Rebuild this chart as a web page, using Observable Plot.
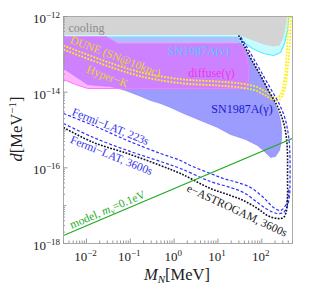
<!DOCTYPE html>
<html><head><meta charset="utf-8">
<script src="https://cdn.jsdelivr.net/npm/d3@7"></script>
<script src="https://cdn.jsdelivr.net/npm/@observablehq/plot@0.6"></script>
<style>body{margin:0;background:#fff} svg{display:block}</style>
</head><body><div id="chart"></div>
<script>
// All points: [log10(M_N / MeV), log10(d · MeV)]
const cooling = [[-2.523,-12],[-2.523,-12.489],[1.468,-12.489],[1.742,-12.608],[2.038,-12.740],[2.266,-12.793],[2.403,-12.767],[2.494,-12.555],[2.540,-12.291],[2.574,-12]];
const snNu = [[-2.523,-12],[-2.523,-12.542],[1.422,-12.542],[1.582,-12.687],[1.787,-12.846],[2.038,-12.978],[2.266,-13.031],[2.426,-12.952],[2.517,-12.714],[2.585,-12.370],[2.619,-12]];
const snNuLow = [[-1.542,-12.542],[1.445,-12.542],[1.536,-12.714],[-1.292,-12.714]];
const snGamma = [[-2.523,-12.542],[-1.542,-12.542],[-1.292,-12.714],[1.536,-12.714],[1.696,-13.031],[1.855,-13.348],[2.015,-13.665],[2.152,-13.956],[2.289,-14.273],[2.380,-14.538],[2.426,-14.749],[2.449,-14.961],[2.449,-15.278],[2.403,-15.542],[2.312,-15.701],[2.198,-15.727],[2.084,-15.595],[1.901,-15.410],[1.628,-15.251],[1.285,-15.119],[0.989,-14.934],[0.601,-14.749],[0.214,-14.564],[-0.083,-14.406],[-0.311,-14.300],[-0.539,-14.220],[-0.813,-14.088],[-1.109,-13.956],[-1.451,-13.850],[-1.793,-13.824],[-1.976,-13.798],[-2.249,-13.586],[-2.523,-13.375]];
const diffuse = [[-2.523,-12.542],[-1.542,-12.542],[-1.292,-12.714],[1.422,-12.714],[1.559,-12.819],[1.650,-13.057],[1.696,-13.375],[1.696,-13.745],[1.628,-13.903],[-1.976,-13.903],[-2.249,-13.798],[-2.523,-13.665]];
const dune = [[-2.523,-12.767],[-1.679,-13.137],[-0.995,-13.401],[-0.539,-13.533],[0.214,-13.665],[0.989,-13.718],[1.513,-13.771],[1.855,-13.850],[2.084,-13.983],[2.243,-14.115],[2.357,-14.141],[2.449,-14.009],[2.494,-13.798],[2.540,-13.427],[2.562,-13.031],[2.585,-12.634],[2.597,-12.238],[2.608,-12.0]];
const hyperK = [[-2.523,-12.872],[-1.679,-13.242],[-0.995,-13.507],[-0.539,-13.639],[0.214,-13.771],[0.989,-13.824],[1.513,-13.877],[1.855,-13.956],[2.084,-14.088],[2.243,-14.194],[2.380,-14.220],[2.471,-14.088],[2.540,-13.824],[2.585,-13.427],[2.619,-13.031],[2.642,-12.634],[2.654,-12.238],[2.665,-12.0]];
const fermi223 = [[-2.523,-14.564],[-1.839,-14.881],[-1.064,-15.278],[-0.311,-15.621],[0.145,-15.806],[0.373,-15.939],[0.829,-16.150],[1.126,-16.282],[1.445,-16.388],[1.742,-16.520],[2.038,-16.785],[2.266,-17.049],[2.426,-17.128],[2.540,-16.996],[2.597,-16.785],[2.619,-16.520]];
const fermi3600 = [[-2.523,-14.828],[-1.839,-15.199],[-1.064,-15.542],[-0.311,-15.833],[0.145,-16.018],[0.829,-16.362],[1.285,-16.520],[1.582,-16.652],[1.901,-16.917],[2.129,-17.102],[2.357,-17.208],[2.494,-17.181],[2.585,-16.996],[2.631,-16.732],[2.642,-16.335],[2.642,-15.806],[2.631,-15.410],[2.597,-15.066],[2.528,-14.696],[2.403,-14.326],[2.198,-13.903],[1.992,-13.480],[1.810,-13.110],[1.650,-12.793],[1.513,-12.529]];
const astrogam = [[-2.523,-14.934],[-1.839,-15.331],[-1.064,-15.621],[-0.311,-15.939],[0.145,-16.150],[0.829,-16.547],[1.285,-16.732],[1.582,-16.864],[1.901,-17.075],[2.129,-17.260],[2.357,-17.340],[2.494,-17.313],[2.562,-17.128],[2.585,-16.732],[2.585,-16.203],[2.585,-15.674],[2.562,-15.225],[2.494,-14.802],[2.357,-14.379],[2.152,-13.956],[1.947,-13.507],[1.764,-13.137],[1.605,-12.793],[1.468,-12.502]];
const model = [[-2.523,-17.79],[2.699,-15.22]];

const xMajor = [0.01, 0.1, 1, 10, 100];
const xLabelExp = ["−2", "−1", "0", "1", "2"];
const yMajor = [1e-12, 1e-14, 1e-16, 1e-18];
const yLabelExp = ["−12", "−14", "−16", "−18"];
const yMid = [1e-13, 1e-15, 1e-17];
const mult = [2,3,4,5,6,7,8,9];
const xMinor = [0.001,0.01,0.1,1,10,100].flatMap(p => mult.map(m => m*p)).filter(v => v >= 0.003 && v <= 500);
const yMinor = [1e-18,1e-17,1e-16,1e-15,1e-14,1e-13].flatMap(p => mult.map(m => m*p));

const pts = a => a.map(([lm, ld]) => ({M: 10 ** lm, d: 10 ** ld}));
const W = 309, H = 295, mL = 63, mR = 17, mT = 16, mB = 52;
const pw = W - mL - mR, ph = H - mT - mB;
const FONT = "Liberation Serif, Times New Roman, serif";
const label = (t, lm, ld, o) => Plot.text([t], {x: 10 ** lm, y: 10 ** ld, text: d => d, fontFamily: FONT, fontSize: 11.5, ...o});
const poly = (a, o) => Plot.line(pts(a), {x: "M", y: "d", curve: "linear", clip: true, ...o});
const curve = (a, o) => Plot.line(pts(a), {x: "M", y: "d", curve: "catmull-rom", clip: true, strokeLinecap: "butt", ...o});

const chart = Plot.plot({
  width: W, height: H, marginLeft: mL, marginRight: mR, marginTop: mT, marginBottom: mB,
  x: {type: "log", domain: [0.003, 500], axis: null},
  y: {type: "log", domain: [1e-18, 1e-12], axis: null},
  style: {fontFamily: FONT, background: "white"},
  marks: [
    poly(snNu, {fill: "#c6fbff", stroke: "none"}),
    poly(snNu.slice(1), {stroke: "#55eeff", strokeWidth: 1.2}),
    poly(snNuLow, {fill: "#aebfff", stroke: "none"}),
    poly(snGamma, {fill: "#5a5aff", fillOpacity: 0.6, stroke: "#6a6aff", strokeOpacity: 0.5, strokeWidth: 0.8}),
    poly(diffuse, {fill: "#ff66ff", fillOpacity: 0.5, stroke: "#ff77ff", strokeWidth: 1}),
    poly(cooling, {fill: "#d4d4d4", stroke: "none"}),
    curve(dune, {stroke: "#ffee11", strokeWidth: 1.8, strokeDasharray: "1.8 1.4"}),
    curve(hyperK, {stroke: "#ffee11", strokeWidth: 1.8, strokeDasharray: "1.8 1.4"}),
    curve(fermi223, {stroke: "#2e2eff", strokeWidth: 1.2, strokeDasharray: "3 2"}),
    curve(fermi3600, {stroke: "#2e2eff", strokeWidth: 1.2, strokeDasharray: "3 2"}),
    curve(astrogam, {stroke: "#10102a", strokeWidth: 1.6, strokeDasharray: "1.8 1.4"}),
    poly(model, {stroke: "#22aa22", strokeWidth: 1.2}),
    label("cooling", -2.409, -12.317, {textAnchor: "start", fill: "#8c8c8c", fontSize: 12}),
    label("DUNE (SN@10kpc)", -1.337, -13.057, {rotate: 21, fill: "#e8d820"}),
    label("Hyper−K", -1.52, -13.586, {rotate: 21, fill: "#e8d820"}),
    label("SN1987A(ν)", 0.556, -12.925, {fill: "#44ccff", fontSize: 12}),
    label("diffuse(γ)", 0.852, -13.494, {fill: "#ee33ee", fontSize: 12}),
    label("SN1987A(γ)", 1.548, -14.458, {fill: "#1a1acc", fontSize: 12}),
    label("Fermi−LAT, 223s", -1.451, -14.908, {rotate: 22, fill: "#3333ee"}),
    label("Fermi−LAT, 3600s", -1.428, -15.674, {rotate: 22, fill: "#3333ee"}),
    label("e−ASTROGAM, 3600s", 1.434, -17.128, {rotate: 25, fill: "#222"}),
    label("model, mν=0.1eV", -1.52, -17.102, {rotate: -23, fill: "#22aa22"}),
    Plot.frame({stroke: "#aaa"}),
    Plot.tickX(xMajor, {x: d => d, stroke: "#999", insetTop: ph - 4.5}),
    Plot.tickX(xMinor, {x: d => d, stroke: "#999", insetTop: ph - 2.5}),
    Plot.tickY(yMajor, {y: d => d, stroke: "#999", insetRight: pw - 4.5}),
    Plot.tickY(yMid, {y: d => d, stroke: "#999", insetRight: pw - 3.5}),
    Plot.tickY(yMinor, {y: d => d, stroke: "#999", insetRight: pw - 2})
  ]
});

const svg = d3.select(chart);
const sx = chart.scale("x"), sy = chart.scale("y");
const g = svg.append("g").attr("font-family", FONT).attr("fill", "#222");
xMajor.forEach((v, i) => {
  const t = g.append("text").attr("x", sx.apply(v) - 0.5).attr("y", 261).attr("text-anchor", "middle").attr("font-size", 13);
  t.append("tspan").text("10");
  t.append("tspan").attr("dy", -5).attr("font-size", 9).text(xLabelExp[i]);
});
yMajor.forEach((v, i) => {
  const t = g.append("text").attr("x", 60).attr("y", sy.apply(v) + 7).attr("text-anchor", "end").attr("font-size", 13);
  t.append("tspan").text("10");
  t.append("tspan").attr("dy", -5).attr("font-size", 9).text(yLabelExp[i]);
});
// axis titles
const yl = g.append("text").attr("transform", "translate(22,129) rotate(-90)").attr("text-anchor", "middle").attr("font-size", 16.5);
yl.append("tspan").attr("font-style", "italic").text("d");
yl.append("tspan").text("[MeV");
yl.append("tspan").attr("dy", -6).attr("font-size", 11).text("−1");
yl.append("tspan").attr("dy", 6).text("]");
const xl = g.append("text").attr("x", 177).attr("y", 280).attr("text-anchor", "middle").attr("font-size", 16.5);
xl.append("tspan").attr("font-style", "italic").text("M");
xl.append("tspan").attr("font-style", "italic").attr("font-size", 11).attr("dy", 3).text("N");
xl.append("tspan").attr("dy", -3).text("[MeV]");
// subscript in the model label
svg.selectAll("text").filter(function() { return this.textContent === "model, mν=0.1eV"; }).each(function() {
  const t = d3.select(this); t.text("");
  t.append("tspan").text("model, ");
  t.append("tspan").attr("font-style", "italic").text("m");
  t.append("tspan").attr("font-size", 8).attr("dy", 2.5).text("ν");
  t.append("tspan").attr("dy", -2.5).text("=0.1eV");
});
document.getElementById("chart").appendChild(chart);
</script>
</body></html>
